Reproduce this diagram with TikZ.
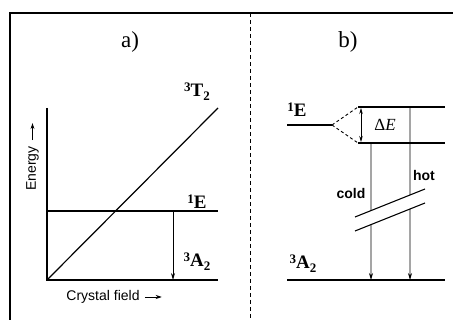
\documentclass[tikz,border=0pt]{standalone}
\usepackage{fontspec}
\setmainfont{Liberation Serif}
\setsansfont{Liberation Sans}
\usetikzlibrary{
  arrows.meta,
  calc,
}
\newcommand{\lvlup}[1]{\raisebox{0.6ex}{\fontsize{13}{13}\selectfont #1}}
\newcommand{\lvldn}[1]{\raisebox{-0.45ex}{\fontsize{13}{13}\selectfont #1}}

\begin{document}
\begin{tikzpicture}[
    x=1pt, y=1pt,
    level/.style={line width=1.2pt},
    trans/.style={line width=0.7pt, -{Stealth[length=7pt,width=4pt]}},
    axisarrow/.style={line width=0.9pt, -{Stealth[length=6pt,width=4pt]}},
    split/.style={line width=0.9pt, dash pattern=on 3pt off 2.5pt},
    term/.style={font=\fontsize{19}{19}\selectfont\bfseries, inner sep=0pt},
    panel/.style={font=\fontsize{23}{23}\selectfont, inner sep=0pt},
    axislabel/.style={font=\sffamily\fontsize{14}{14}\selectfont, inner sep=0pt},
    tlabel/.style={font=\sffamily\bfseries\fontsize{14}{14}\selectfont, inner sep=0pt},
  ]
  \useasboundingbox (0,0) rectangle (453,320);

  % frame and divider
  \coordinate (fb) at (10,0);
  \coordinate (fl) at (10,307);
  \coordinate (fr) at (453,307);
  \draw[line width=1.3pt] (fb) -- (fl) -- (fr);
  \coordinate (dtop) at (250,307);
  \coordinate (dbot) at (250,0);
  \draw[line width=1pt, dash pattern=on 4pt off 3pt] (dtop) -- (dbot);

  % a) energy against crystal field
  \node[panel] (pa) at (130,278) {a)};
  \coordinate (o)   at (47,40);
  \coordinate (ytop) at (47,212);
  \coordinate (xend) at (218,40);
  \coordinate (eleft) at (47,109);
  \coordinate (eright) at (218,109);
  \coordinate (tend) at (218,212);
  \draw[level] (ytop) -- (o) -- (xend);
  \draw[level] (eleft) -- (eright);
  \draw[level] (o) -- (tend);
  \coordinate (ea) at (173,109);
  \coordinate (eb) at (173,40);
  \draw[trans] (ea) -- (eb);

  \node[term] (t2) at (197,228) {\lvlup{3}T\lvldn{2}};
  \node[term] (ea1) at (197,118) {\lvlup{1}E};
  \node[term] (a2a) at (197,58) {\lvlup{3}A\lvldn{2}};

  \node[axislabel, rotate=90] (en) at (32.5,151.5) {Energy};
  \coordinate (ena) at ($(en.east)+(0,6)$);
  \coordinate (enb) at ($(ena)+(0,17)$);
  \draw[axisarrow] (ena) -- (enb);
  \node[axislabel] (cf) at (103,23) {Crystal field};
  \coordinate (cfa) at ($(cf.east)+(5,0)$);
  \coordinate (cfb) at ($(cfa)+(17,0)$);
  \draw[axisarrow] (cfa) -- (cfb);

  % b) split 1E level
  \node[panel] (pb) at (348,278) {b)};
  \coordinate (e0)  at (287,195);
  \coordinate (e1)  at (332,195);
  \coordinate (up0) at (358,213);
  \coordinate (up1) at (445,213);
  \coordinate (lo0) at (358,177);
  \coordinate (lo1) at (445,177);
  \coordinate (g0)  at (287,40);
  \coordinate (g1)  at (445,40);
  \draw[level] (e0) -- (e1);
  \draw[split] (e1) -- (up0);
  \draw[split] (e1) -- (lo0);
  \draw[level] (up0) -- (up1);
  \draw[level] (lo0) -- (lo1);
  \draw[level] (g0) -- (g1);

  \coordinate (da) at (361,212);
  \coordinate (db) at (361,178);
  \draw[line width=0.7pt, {Stealth[length=6pt,width=3.5pt]}-{Stealth[length=6pt,width=3.5pt]}] (da) -- (db);
  \node[font=\fontsize{17}{17}\selectfont, inner sep=0pt] (de) at (385,195) {Δ\textit{E}};

  % break marks
  \coordinate (s1a) at (355,103);
  \coordinate (s1b) at (425,131);
  \coordinate (s2a) at (355,89);
  \coordinate (s2b) at (425,117);
  \draw[line width=1.1pt] (s1a) -- (s1b);
  \draw[line width=1.1pt] (s2a) -- (s2b);

  % cold and hot transitions
  \coordinate (c0) at (371,177);
  \coordinate (c1) at ($(s1a)!{16/70}!(s1b)$);
  \coordinate (c2) at ($(s2a)!{16/70}!(s2b)$);
  \coordinate (c3) at (371,40);
  \draw[line width=0.7pt] (c0) -- (c1);
  \draw[trans] (c2) -- (c3);
  \coordinate (h0) at (410,213);
  \coordinate (h1) at ($(s1a)!{55/70}!(s1b)$);
  \coordinate (h2) at ($(s2a)!{55/70}!(s2b)$);
  \coordinate (h3) at (410,40);
  \draw[line width=0.7pt] (h0) -- (h1);
  \draw[trans] (h2) -- (h3);

  \node[tlabel] (cold) at (351,126) {cold};
  \node[tlabel] (hot) at (424,144) {hot};
  \node[term] (eb1) at (297,210) {\lvlup{1}E};
  \node[term] (a2b) at (303,56) {\lvlup{3}A\lvldn{2}};
\end{tikzpicture}
\end{document}
